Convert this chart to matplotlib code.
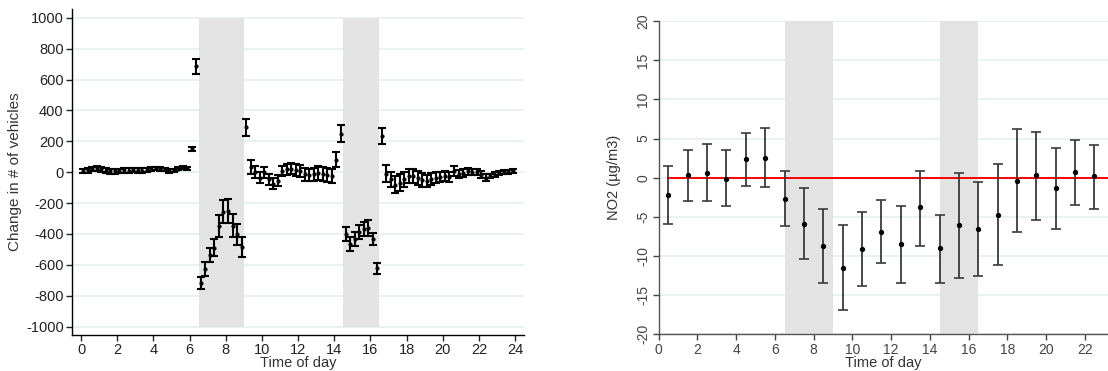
import numpy as np
import matplotlib
matplotlib.use("Agg")
import matplotlib.pyplot as plt

plt.rcParams["font.family"] = ["Liberation Sans", "DejaVu Sans"]
plt.rcParams["axes.unicode_minus"] = False

# Left panel: change in number of vehicles, 15-minute bins
veh_hours = np.arange(96) * 0.25 + 0.125
veh_change = [
    8, 12, 20, 24, 18, 10, 6, 5, 8, 12, 10, 14,
    12, 10, 15, 20, 24, 22, 18, 8, 12, 22, 28, 25,
    150, 685,
    -718, -629, -537, -488, -351, -255, -251, -347, -402, -483,
    290,
    33, 3, -35, 0, -45, -75, -55, 8, 18, 22, 14, 7,
    -14, -18, -14, -3, -10, -18, -25, 82, 249,
    -399, -463, -431, -388, -367, -362, -431, -623,
    236,
    -10, -46, -80, -67, -46, -25, -25, -35, -50, -57, -46, -35,
    -31, -25, -31, 7, -10, -3, 7, 3, 0, -15, -35, -25,
    -15, -6, 0, 3, 7,
]
veh_err = [
    15, 15, 15, 15, 15, 15, 15, 15, 15, 15, 15, 15,
    15, 15, 15, 15, 12, 12, 12, 12, 10, 10, 10, 10,
    15, 48,
    40, 45, 48, 58, 72, 75, 75, 75, 68, 64,
    55,
    45, 40, 35, 35, 35, 35, 35, 35, 35, 35, 40, 40,
    40, 40, 40, 45, 45, 45, 45, 48, 55,
    45, 45, 45, 45, 45, 50, 40, 35,
    52,
    55, 50, 55, 55, 50, 45, 45, 45, 45, 40, 40, 35,
    35, 35, 35, 30, 25, 25, 22, 20, 20, 20, 22, 15,
    15, 12, 12, 12, 12,
]

# Right panel: NO2 change by hour
no2_hours = np.arange(23) + 0.5
no2_mean = [-2.2, 0.35, 0.65, -0.15, 2.4, 2.5, -2.7, -5.9, -8.7, -11.5,
            -9.1, -6.9, -8.5, -3.75, -9.0, -6.0, -6.55, -4.75, -0.4, 0.3,
            -1.3, 0.7, 0.2]
no2_hi = [1.5, 3.6, 4.3, 3.5, 5.75, 6.3, 0.8, -1.35, -3.95, -6.05,
          -4.4, -2.9, -3.6, 0.9, -4.7, 0.6, -0.6, 1.7, 6.2, 5.9,
          3.8, 4.85, 4.2]
no2_lo = [-5.9, -3.0, -3.0, -3.6, -1.05, -1.25, -6.2, -10.4, -13.4, -16.9,
          -13.8, -10.9, -13.5, -8.7, -13.4, -12.8, -12.5, -11.2, -6.9, -5.4,
          -6.5, -3.5, -3.95]

peaks = [(6.5, 9.0), (14.5, 16.5)]

SHADE = "#e3e3e3"
GRID = "#e6eff1"

fig = plt.figure(figsize=(11.08, 3.71), dpi=100)

# ---- left panel ----
ax1 = fig.add_axes([0.065, 0.097, 0.408, 0.879])
for a, b in peaks:
    ax1.fill_between([a, b], -1000, 1000, color=SHADE, lw=0, zorder=1)
ax1.errorbar(veh_hours, veh_change, yerr=veh_err, fmt="o", ms=2,
             color="black", ecolor="black", elinewidth=1.5, capsize=2.6,
             capthick=1.5, zorder=3)
ax1.set_xlim(-0.5, 24.5)
ax1.set_ylim(-1055, 1058)
ax1.set_xticks(np.arange(0, 25, 2))
ax1.set_yticks(np.arange(-1000, 1001, 200))
ax1.yaxis.grid(True, color=GRID, lw=1.2, zorder=0)
ax1.set_axisbelow(True)
for s in ["top", "right"]:
    ax1.spines[s].set_visible(False)
for s in ["left", "bottom"]:
    ax1.spines[s].set_color("black")
    ax1.spines[s].set_linewidth(1.0)
ax1.tick_params(labelsize=10.5, length=4, width=1, colors="#222222", pad=2)
ax1.set_ylabel("Change in # of vehicles", fontsize=11, color="#333333")
ax1.yaxis.set_label_coords(-0.11, 0.5)
ax1.set_xlabel("Time of day", fontsize=10.5, color="#333333")
ax1.xaxis.set_label_coords(0.5, -0.064)

# ---- right panel ----
ax2 = fig.add_axes([0.5945, 0.099, 0.4055, 0.844])
for a, b in peaks:
    ax2.axvspan(a, b, color=SHADE, lw=0, zorder=1)
ax2.axhline(0, xmin=no2_hours[0] / 23.2, color="#ff0000", lw=1.4, zorder=2)
mean = np.array(no2_mean)
yerr = [mean - np.array(no2_lo), np.array(no2_hi) - mean]
ax2.errorbar(no2_hours, mean, yerr=yerr, fmt="o", ms=2.8, color="black",
             ecolor="#3a3a3a", elinewidth=1.3, capsize=3.5, capthick=1.2,
             zorder=3)
ax2.set_xlim(0, 23.2)
ax2.set_ylim(-20, 20)
ax2.set_xticks(np.arange(0, 23, 2))
ax2.set_yticks(np.arange(-20, 21, 5))
ax2.yaxis.grid(True, color=GRID, lw=1.2, zorder=0)
ax2.set_axisbelow(True)
for s in ["top", "right"]:
    ax2.spines[s].set_visible(False)
for s in ["left", "bottom"]:
    ax2.spines[s].set_color("#555555")
    ax2.spines[s].set_linewidth(1.0)
ax2.tick_params(labelsize=10, length=4, width=1, colors="#444444", pad=2)
for lab in ax2.get_yticklabels():
    lab.set_rotation(90)
    lab.set_va("center")
ax2.set_ylabel("NO2 (µg/m3)", fontsize=10.5, color="#333333")
ax2.yaxis.set_label_coords(-0.083, 0.5)
ax2.set_xlabel("Time of day", fontsize=10.5, color="#333333")
ax2.xaxis.set_label_coords(0.5, -0.068)

fig.savefig("out.png", dpi=100, facecolor="white")
